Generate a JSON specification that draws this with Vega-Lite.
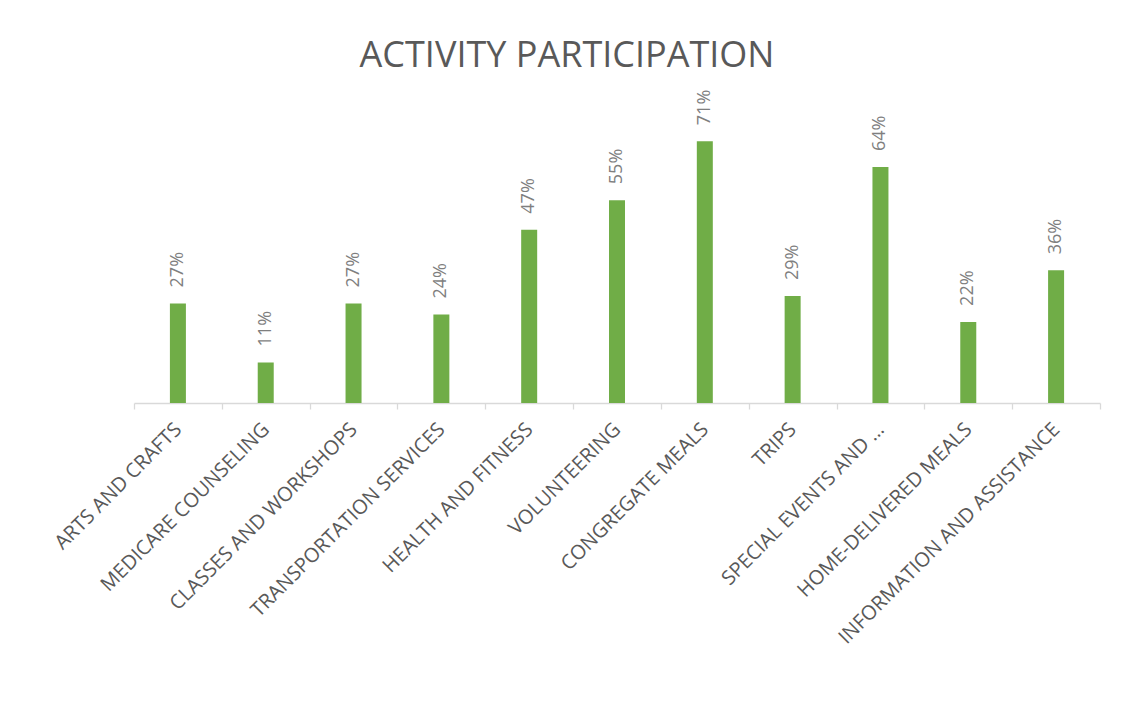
{
  "$schema": "https://vega.github.io/schema/vega-lite/v6.json",
  "autosize": {"type": "none"},
  "padding": {"left": 134, "top": 108, "right": 22, "bottom": 308},
  "width": 966,
  "height": 295,
  "background": "white",
  "config": {"view": {"stroke": null}},
  "title": {
    "text": "ACTIVITY PARTICIPATION",
    "font": "Open Sans",
    "fontSize": 36,
    "fontWeight": "normal",
    "color": "#595959",
    "anchor": "middle",
    "frame": "group",
    "baseline": "alphabetic",
    "dx": -50,
    "dy": 54,
    "offset": 41
  },
  "data": {
    "values": [
      {"activity": "ARTS AND CRAFTS", "share": 0.27},
      {"activity": "MEDICARE COUNSELING", "share": 0.11},
      {"activity": "CLASSES AND WORKSHOPS", "share": 0.27},
      {"activity": "TRANSPORTATION SERVICES", "share": 0.24},
      {"activity": "HEALTH AND FITNESS", "share": 0.47},
      {"activity": "VOLUNTEERING", "share": 0.55},
      {"activity": "CONGREGATE MEALS", "share": 0.71},
      {"activity": "TRIPS", "share": 0.29},
      {"activity": "SPECIAL EVENTS AND …", "share": 0.64},
      {"activity": "HOME-DELIVERED MEALS", "share": 0.22},
      {"activity": "INFORMATION AND ASSISTANCE", "share": 0.36}
    ]
  },
  "encoding": {
    "x": {
      "field": "activity",
      "type": "nominal",
      "sort": null,
      "scale": {"paddingInner": 0, "paddingOuter": 0},
      "axis": {
        "title": null,
        "labelAngle": -45,
        "labelAlign": "right",
        "labelBaseline": "middle",
        "labelFont": "Open Sans",
        "labelFontSize": 20,
        "labelColor": "#595959",
        "labelLimit": 1000,
        "labelOverlap": false,
        "labelPadding": 17,
        "tickBand": "extent",
        "tickSize": 6,
        "tickColor": "#D9D9D9",
        "domainColor": "#D9D9D9",
        "domainWidth": 1.3,
        "tickWidth": 1.3
      }
    },
    "y": {
      "field": "share",
      "type": "quantitative",
      "scale": {"domain": [0, 0.8], "nice": false},
      "axis": null
    }
  },
  "layer": [
    {"mark": {"type": "bar", "width": 16, "color": "#70AD47"}},
    {
      "mark": {
        "type": "text",
        "angle": -90,
        "align": "left",
        "baseline": "middle",
        "dx": 16,
        "font": "Open Sans",
        "fontSize": 18,
        "color": "#7F7F7F"
      },
      "encoding": {"text": {"field": "share", "type": "quantitative", "format": ".0%"}}
    }
  ]
}
